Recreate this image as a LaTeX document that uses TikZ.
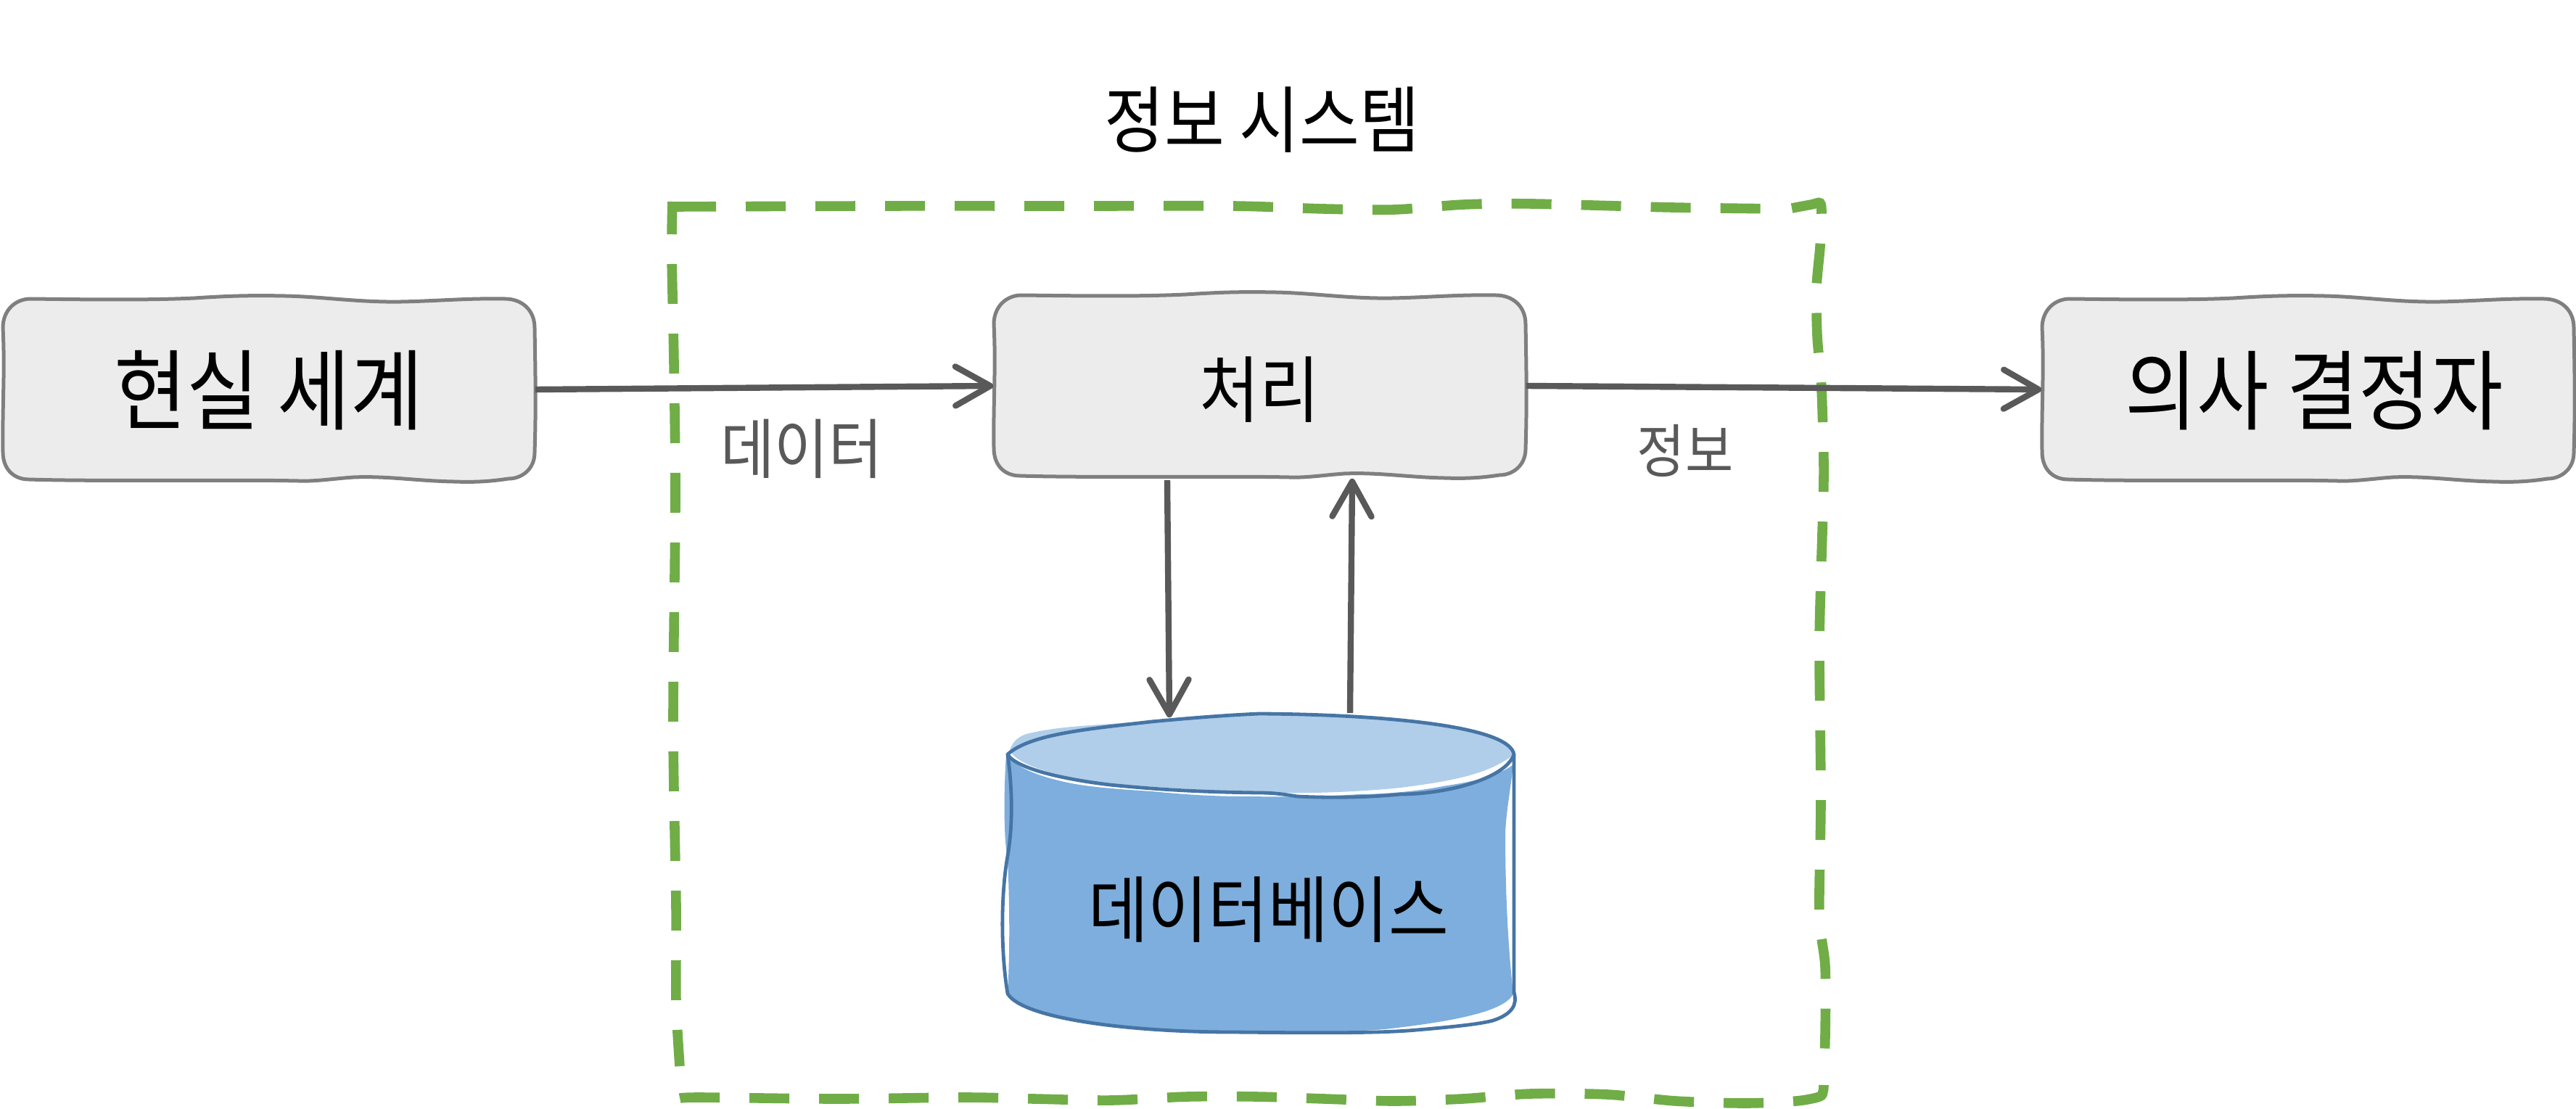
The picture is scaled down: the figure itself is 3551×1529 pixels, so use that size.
\documentclass[tikz,border=0pt]{standalone}
\usepackage{fontspec}
\usetikzlibrary{arrows.meta,calc}
\newfontfamily\krfont[FakeStretch=0.9]{Noto Sans CJK KR}
\definecolor{boxfill}{HTML}{ECECEC}
\definecolor{boxline}{HTML}{7F7F7F}
\definecolor{arrowgray}{HTML}{595959}
\definecolor{groupgreen}{HTML}{70AD47}
\definecolor{dbbody}{HTML}{7DAEDD}
\definecolor{dbtop}{HTML}{B0CEEA}
\definecolor{dbline}{HTML}{4675A5}
% text whose baseline is placed at a fixed distance from the node centre
\newcommand{\ktext}[3]{\fontsize{#1pt}{#1pt}\krfont\raisebox{#2pt}[0pt][0pt]{#3}}
% the hand-drawn box shared by the three process boxes
\newcommand{\wobblybox}[2]{%
  \begin{scope}[shift={(#1,#2)}]
    \path[wobble]
      (0,40) .. controls (0,15) and (18,0) .. (38,0)
      .. controls (120,1) and (200,2) .. (264,-1)
      .. controls (310,-4) and (340,-5) .. (389,-4)
      .. controls (440,-3) and (490,5) .. (549,4)
      .. controls (600,3) and (640,-1) .. (692,0)
      .. controls (715,0) and (733,15) .. (733,40)
      .. controls (734,100) and (735,150) .. (733,212)
      .. controls (733,235) and (715,248) .. (697,248)
      .. controls (670,252) and (650,253) .. (621,252)
      .. controls (570,251) and (530,244) .. (483,246)
      .. controls (455,248) and (430,252) .. (407,251)
      .. controls (320,249) and (130,252) .. (36,249)
      .. controls (15,249) and (0,235) .. (0,211)
      .. controls (-1,150) and (3,100) .. (0,40) -- cycle;
  \end{scope}}
\tikzset{
  wobble/.style={fill=boxfill,draw=boxline,line width=1.25pt},
  boxnode/.style={inner sep=0pt,minimum width=183.25pt,minimum height=62.5pt},
  free/.style={inner sep=0pt},
  greydash/.style={groupgreen,line width=3.4pt,dash pattern=on 13.75pt off 10.25pt},
  flow/.style={draw=arrowgray,line width=2.1pt,-{Straight Barb[length=12pt,width=13.5pt,round]}},
  dbstroke/.style={draw=dbline,line width=1.2pt,line join=round},
}
\begin{document}
\begin{tikzpicture}[x=0.25pt,y=-0.25pt]
\useasboundingbox (0,0) rectangle (3551,1529);

% dashed group outline
\draw[greydash] plot[smooth] coordinates {(932,285) (1200,284) (1500,284) (1700,284) (1826,288) (1922,289) (2018,282) (2113,281) (2305,286) (2460,288)};
\draw[greydash] plot[smooth] coordinates {(2470,287) (2497,282) (2509,280) (2511,295) (2509,340) (2504,397) (2505,463) (2510,520) (2512,563) (2514,657) (2510,800) (2508,900) (2510,1100) (2508,1260) (2516,1333) (2516,1427) (2514,1480)};
\draw[greydash] plot[smooth] coordinates {(2514,1496) (2513,1505) (2508,1512) (2476,1518) (2405,1521) (2310,1518) (2216,1509) (2110,1508) (2016,1515) (1921,1518) (1826,1515) (1732,1512) (1637,1512) (1532,1517) (1426,1515) (1330,1513) (1153,1515) (963,1513) (935,1515)};
\draw[greydash,dash phase=2.5pt] plot[smooth] coordinates {(927,278) (926,350) (929,500) (931,690) (928,1000) (932,1250) (932,1380) (937,1470)};

% process boxes
\wobblybox{4}{412}
\node[boxnode] (real) at (370.5,537) {\ktext{30.3}{-11.6}{현실 세계}};
\wobblybox{1370}{407}
\node[boxnode] (proc) at (1736.5,532) {\ktext{25}{-10.5}{처리}};
\wobblybox{2815}{412}
\node[boxnode] (dec) at (3181.5,537) {\hspace*{4.2pt}\ktext{30}{-11.7}{의사 결정자}};

% database
\path[fill=dbbody]
  (1387,1040) .. controls (1383,1100) and (1384,1160) .. (1389,1185)
  .. controls (1392,1250) and (1392,1320) .. (1389,1370)
  .. controls (1410,1405) and (1560,1423) .. (1740,1423)
  .. controls (1820,1423) and (1880,1423) .. (1926,1417)
  .. controls (2000,1408) and (2075,1395) .. (2086,1370)
  .. controls (2078,1300) and (2075,1220) .. (2075,1150)
  .. controls (2076,1120) and (2082,1090) .. (2086,1054)
  .. controls (2060,1075) and (2000,1082) .. (1989,1084)
  .. controls (1950,1092) and (1900,1095) .. (1874,1095)
  .. controls (1800,1100) and (1750,1098) .. (1702,1098)
  .. controls (1650,1097) and (1620,1094) .. (1587,1091)
  .. controls (1540,1088) and (1500,1085) .. (1472,1079)
  .. controls (1430,1070) and (1400,1058) .. (1387,1040) -- cycle;
\path[fill=dbtop]
  (1392,1034) .. controls (1396,1022) and (1405,1015) .. (1415,1012)
  .. controls (1450,1003) and (1490,1001) .. (1530,998)
  .. controls (1600,993) and (1680,990) .. (1736,985)
  .. controls (1900,985) and (2075,1000) .. (2087,1040)
  .. controls (2050,1070) and (1990,1078) .. (1931,1086)
  .. controls (1870,1092) and (1810,1094) .. (1759,1093)
  .. controls (1650,1090) and (1560,1083) .. (1530,1080)
  .. controls (1460,1072) and (1400,1055) .. (1392,1034) -- cycle;
\path[dbstroke]
  (1389,1040) .. controls (1420,1012) and (1500,1005) .. (1587,995)
  .. controls (1640,990) and (1690,986) .. (1736,984)
  .. controls (1900,985) and (2080,1000) .. (2087,1040)
  .. controls (2075,1075) and (1990,1095) .. (1931,1095)
  .. controls (1880,1100) and (1830,1100) .. (1788,1098)
  .. controls (1770,1095) and (1755,1093) .. (1736,1093)
  .. controls (1650,1092) and (1590,1088) .. (1530,1082)
  .. controls (1470,1075) and (1400,1060) .. (1389,1040) -- cycle;
\path[dbstroke]
  (1389,1040) .. controls (1396,1090) and (1396,1140) .. (1389,1180)
  .. controls (1380,1230) and (1379,1310) .. (1389,1370)
  .. controls (1410,1405) and (1560,1423) .. (1700,1423)
  .. controls (1800,1424) and (1900,1425) .. (1953,1420)
  .. controls (2000,1416) and (2040,1412) .. (2058,1407)
  .. controls (2085,1398) and (2092,1385) .. (2087,1368)
  -- (2087,1040);
\node[free,minimum width=174.75pt,minimum height=109.75pt] (db) at (1738.5,1203.5)
  {\hspace*{5pt}\ktext{25}{-21.9}{데이터베이스}};

% free labels
\node[free] (title) at (1740,165) {\ktext{25}{-9.3}{정보 시스템}};
\node[free,text=arrowgray] (datalbl) at (1105,619) {\ktext{22.5}{-8.4}{데이터}};
\node[free,text=arrowgray] (infolbl) at (2323,622) {\ktext{20}{-7.4}{정보}};

% connectors
\draw[flow] (real.east) -- (proc.west);
\draw[flow] (proc.east) -- (dec.west);
\draw[flow] ($(proc.south)+(-127.5,4)$) -- ($(db.north)+(-126.5,6)$);
\draw[flow] ($(db.north)+(122.5,0)$) -- ($(proc.south)+(127.5,2)$);
\end{tikzpicture}
\end{document}
